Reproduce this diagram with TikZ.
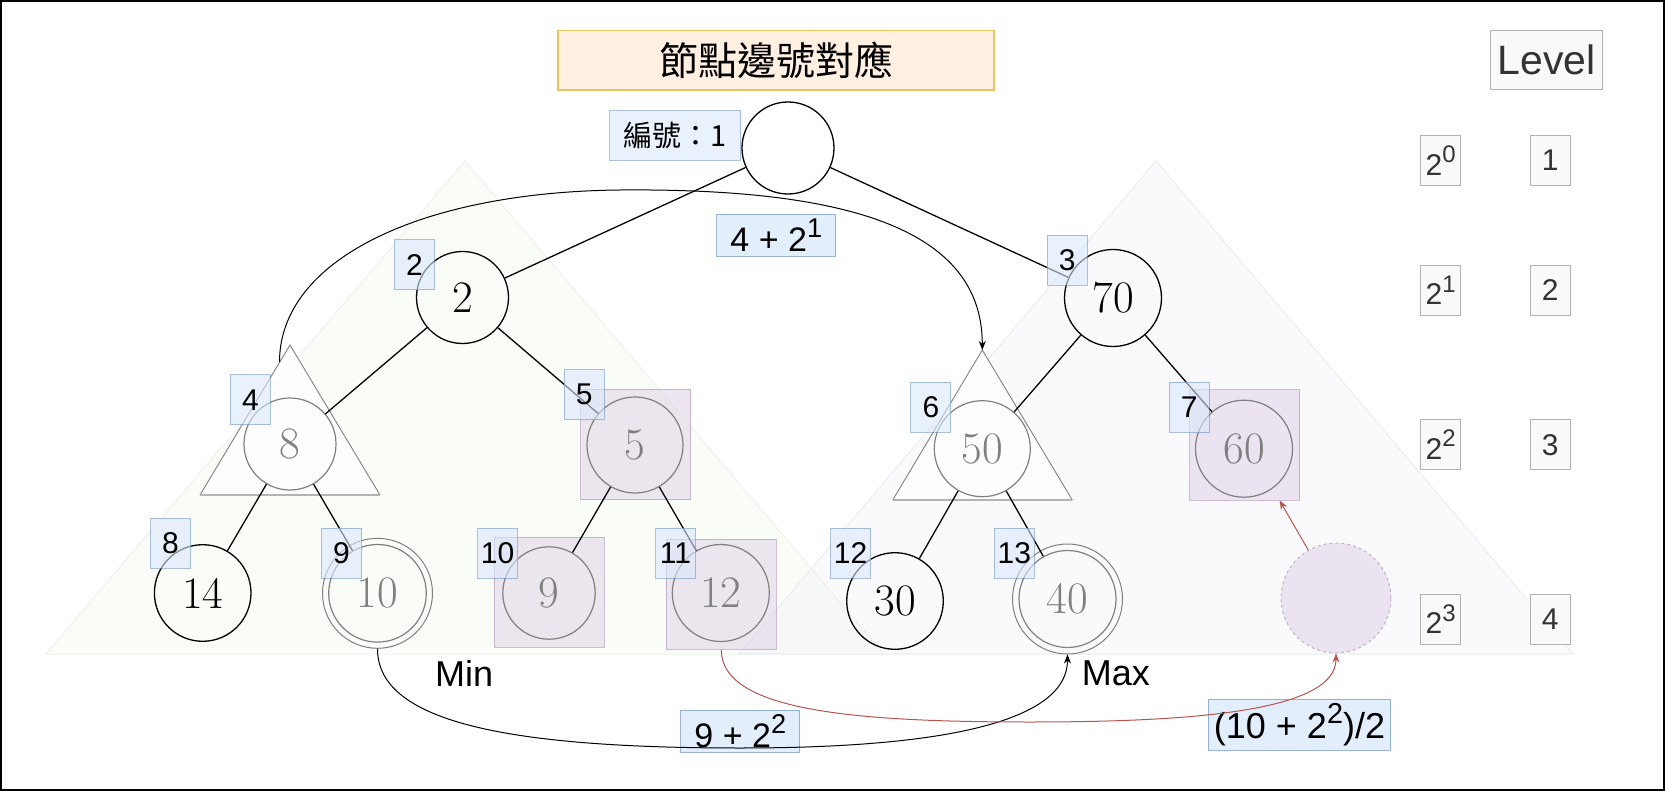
\documentclass[tikz,border=0pt]{standalone}
\usepackage{fontspec}
\usepackage{graphicx}
\newfontfamily\arialf{Liberation Sans}
\newfontfamily\cjkf{Noto Sans CJK TC}
\usetikzlibrary{arrows.meta}
\definecolor{gry}{RGB}{128,128,128}
\definecolor{lblf}{RGB}{218,232,252}
\definecolor{lblb}{RGB}{108,142,191}
\definecolor{psqf}{RGB}{225,213,231}
\definecolor{psqb}{RGB}{150,115,166}
\definecolor{ttlf}{RGB}{255,240,226}
\definecolor{ttlb}{RGB}{237,197,94}
\definecolor{lvlf}{RGB}{249,249,249}
\definecolor{lvlb}{RGB}{179,179,179}
\definecolor{lvlt}{RGB}{51,51,51}
\definecolor{grnf}{RGB}{228,240,218}
\definecolor{grnb}{RGB}{238,242,236}
\definecolor{lavf}{RGB}{230,230,246}
\definecolor{lavb}{RGB}{236,236,242}
\definecolor{redc}{RGB}{184,84,80}
\newcommand{\spx}[1]{\raisebox{0.42em}{\scalebox{0.8}{#1}}}
\begin{document}
\begin{tikzpicture}[x=1pt,y=-1pt,
  bnode/.style={circle, draw=black, line width=1.3pt, minimum size=96pt, inner sep=0pt, font=\fontsize{45}{50}\selectfont},
  gnode/.style={circle, draw=gry, text=gry, line width=1.2pt, minimum size=96pt, inner sep=0pt, font=\fontsize{45}{50}\selectfont},
  gring/.style={circle, draw=gry, line width=1pt, minimum size=110pt, inner sep=0pt},
  dcirc/.style={circle, draw=psqb, draw opacity=0.5, dashed, fill=psqf, fill opacity=0.6, line width=1pt, minimum size=110pt, inner sep=0pt},
  psq/.style={draw=psqb, draw opacity=0.45, fill=psqf, fill opacity=0.6, line width=1pt, minimum size=110pt, inner sep=0pt},
  lbl/.style={draw=lblb, draw opacity=0.55, fill=lblf, fill opacity=0.6, text opacity=1, line width=1pt, minimum width=40pt, minimum height=50pt, inner sep=0pt, font=\arialf\fontsize{30}{34}\selectfont},
  fbox/.style={draw=lblb, draw opacity=0.65, fill=lblf, fill opacity=0.75, text opacity=1, line width=1pt, inner sep=0pt, font=\arialf\fontsize{34}{38}\selectfont},
  lvl/.style={draw=lvlb, fill=lvlf, text=lvlt, line width=1pt, minimum width=40pt, minimum height=50pt, inner sep=0pt, font=\arialf\fontsize{30}{34}\selectfont},
  ttl/.style={draw=ttlb, fill=ttlf, line width=1.2pt, inner sep=0pt, font=\cjkf\fontsize{39}{44}\selectfont},
  txt/.style={inner sep=0pt, font=\arialf\fontsize{36}{40}\selectfont},
  edge/.style={line width=1.3pt},
  curve/.style={line width=1pt},
  tip/.style={-{Stealth[length=9pt,width=7pt]}}
]
\useasboundingbox (0,0) rectangle (1665,791);
% big background triangles
\path[fill=grnf, fill opacity=0.2, draw=grnb, line width=1pt] (465,161) -- (884,654) -- (46,654) -- cycle;
\path[fill=lavf, fill opacity=0.2, draw=lavb, line width=1pt] (1156,161) -- (1573,654) -- (739,654) -- cycle;
% small triangles
\path[fill=white, fill opacity=0.7] (290,345) -- (380,495) -- (200,495) -- cycle;
\draw[gry, line width=0.9pt] (200,495) -- (290,345) -- (380,495);
\draw[lvlb, line width=2pt] (200,495) -- (380,495);
\path[fill=white, fill opacity=0.7] (982.3,350) -- (1072.3,500) -- (892.7,500) -- cycle;
\draw[gry, line width=0.9pt] (892.7,500) -- (982.3,350) -- (1072.3,500);
\draw[lvlb, line width=2pt] (892.7,500) -- (1072.3,500);
% purple squares
\node[psq] (n5sq) at (635.5,444.5) {};
\node[psq] (n9sq) at (549.3,592.2) {};
\node[psq] (n12sq) at (721.3,594.3) {};
\node[psq] (n60sq) at (1244.6,445) {};
% title and level
\node[ttl, minimum width=436pt, minimum height=59.3pt] (title) at (776,60.4) {節點邊號對應};
\node[lvl, minimum width=111.6pt, minimum height=59.3pt, font=\arialf\fontsize{41}{45}\selectfont] (lvlhead) at (1546.5,60.3) {Level};
\node[lvl] (p0) at (1440.7,160.4) {2\spx{0}};
\node[lvl] (p1) at (1440.7,290.3) {2\spx{1}};
\node[lvl] (p2) at (1440.7,444.7) {2\spx{2}};
\node[lvl] (p3) at (1440.7,619.3) {2\spx{3}};
\node[lvl] (v1) at (1550.3,160.4) {1};
\node[lvl] (v2) at (1550.3,290.3) {2};
\node[lvl] (v3) at (1550.3,444.7) {3};
\node[lvl] (v4) at (1550.3,619.3) {4};
% tree nodes
\node[bnode, minimum size=92pt] (root) at (788,148) {};
\node[bnode, minimum size=92pt] (n2) at (462.5,297.5) {2};
\node[bnode, minimum size=97pt] (n70) at (1113,298) {70};
\node[gnode, minimum size=92pt] (n8) at (290,444) {8};
\node[gnode] (n5) at (635,445) {5};
\node[gnode] (n50) at (982.3,448.7) {50};
\node[gnode, minimum size=97pt] (n60) at (1244,448.7) {60};
\node[bnode, minimum size=96.6pt] (n14) at (202.7,593) {14};
\node[gnode, minimum size=97.6pt] (n10) at (377.5,593.3) {10};
\node[gring] (n10o) at (377.5,593.3) {};
\node[gnode, minimum size=92.4pt] (n9) at (549,593) {9};
\node[gnode, minimum size=97pt] (n12) at (720.8,593) {12};
\node[bnode, minimum size=96.6pt] (n30) at (895,601) {30};
\node[gnode, minimum size=97pt] (n40) at (1067.5,599) {40};
\node[gring] (n40o) at (1067.5,599) {};
\node[dcirc] (dc) at (1336,598) {};
% tree edges
\draw[edge] (root) -- (n2);
\draw[edge] (root) -- (n70);
\draw[edge] (n2) -- (n8);
\draw[edge] (n2) -- (n5);
\draw[edge] (n8) -- (n14);
\draw[edge] (n8) -- (n10);
\draw[edge] (n5) -- (n9);
\draw[edge] (n5) -- (n12);
\draw[edge] (n70) -- (n50);
\draw[edge] (n70) -- (n60);
\draw[edge] (n50) -- (n30);
\draw[edge] (n50) -- (n40);
% index labels
\node[lbl, minimum width=130.7pt, minimum height=49.5pt, font=\cjkf\fontsize{29}{33}\selectfont] (l1) at (675.3,135.3) {編號：1};
\node[lbl] (l2) at (414.4,265) {2};
\node[lbl] (l3) at (1067.3,260.4) {3};
\node[lbl] (l4) at (250.4,399.7) {4};
\node[lbl] (l5) at (584.3,394.7) {5};
\node[lbl] (l6) at (930.9,407.3) {6};
\node[lbl] (l7) at (1189.3,407.3) {7};
\node[lbl] (l8) at (170.5,543.3) {8};
\node[lbl] (l9) at (341.5,553.3) {9};
\node[lbl] (l10) at (497.5,553.3) {10};
\node[lbl] (l11) at (675.5,553.3) {11};
\node[lbl] (l12) at (850.6,553.3) {12};
\node[lbl] (l13) at (1014.3,553.3) {13};
% formula boxes and texts
\node[fbox, minimum width=119.3pt, minimum height=41.7pt] (f1) at (776.3,235.2) {4 + 2\spx{1}};
\node[fbox, minimum width=119.3pt, minimum height=41.7pt] (f2) at (740.3,731.2) {9 + 2\spx{2}};
\node[fbox, minimum width=182.4pt, minimum height=50.7pt, font=\arialf\fontsize{36}{40}\selectfont] (f3) at (1299.5,724.7) {(10 + 2\spx{2})/2};
\node[txt, anchor=base west] (mn) at (435,686.7) {Min};
\node[txt, anchor=base west] (mx) at (1081.7,685) {Max};
% curves
\coordinate (c4) at (279.5,362);
\coordinate (t6top) at (982.3,350);
\draw[curve, tip] (c4) .. controls (279.5,260) and (420,192) .. (620,190) .. controls (850,188) and (982.3,230) .. (t6top);
\draw[curve, tip] (n10o.south) .. controls (377.5,720) and (500,748) .. (740,748) .. controls (950,748) and (1067.5,720) .. (n40o.south);
\draw[curve, redc, tip] (n12sq.south) .. controls (721.3,710) and (850,722) .. (1030,722) .. controls (1200,722) and (1336,710) .. (dc.south);
\draw[curve, redc, tip] (dc) -- ([xshift=35pt]n60sq.south);
% frame
\draw[line width=1.6pt] (0.8,0.8) rectangle (1664.2,790.2);
\end{tikzpicture}
\end{document}
